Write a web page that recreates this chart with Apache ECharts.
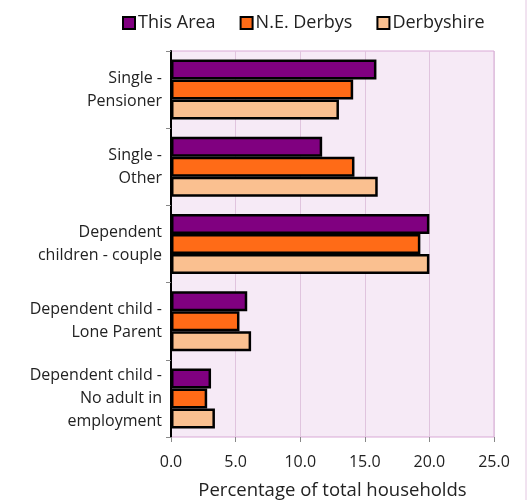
<!DOCTYPE html>
<html lang="en">
<head>
    <meta charset="UTF-8">
    <title>Household types</title>
    <script src="https://cdn.jsdelivr.net/npm/echarts@6/dist/echarts.min.js"></script>
</head>
<body style="margin:0">
<div id="main" style="width: 527px;height:500px;"></div>
<script>
    // categories, top to bottom
    var categories = ['Single -\nPensioner', 'Single -\nOther', 'Dependent\nchildren - couple',
        'Dependent child -\nLone Parent', 'Dependent child -\nNo adult in\nemployment'];
    var seriesNames = ['This Area', 'N.E. Derbys', 'Derbyshire'];
    var thisArea = [15.9, 11.7, 20.0, 5.9, 3.1];
    var neDerbys = [14.1, 14.2, 19.3, 5.3, 2.8];
    var derbyshire = [13.0, 16.0, 20.0, 6.2, 3.4];
    var xTicks = [0, 5, 10, 15, 20, 25];

    var colors = ['#800080', '#ff6b17', '#fac090'];
    var font = 'Open Sans';

    var myChart = echarts.init(document.getElementById('main'));

    function bar(name, data, color) {
        return {
            name: name,
            type: 'bar',
            data: data,
            barWidth: 20,
            barGap: '0%',
            itemStyle: {color: color, borderColor: '#000', borderWidth: 2.5}
        };
    }

    var option = {
        animation: false,
        textStyle: {fontFamily: font},
        legend: {
            top: 9,
            left: 117,
            icon: 'rect',
            itemWidth: 12,
            itemHeight: 12,
            itemGap: 24,
            textStyle: {fontSize: 18, color: '#222', padding: [0, 0, 0, -2]},
            data: seriesNames
        },
        grid: {
            left: 171, right: 33, top: 51, bottom: 63,
            outerBoundsMode: 'none',
            show: true,
            backgroundColor: '#f6eaf6',
            borderColor: '#d9a9d6',
            borderWidth: 1
        },
        xAxis: {
            type: 'value',
            min: xTicks[0],
            max: xTicks[xTicks.length - 1],
            interval: 5,
            name: 'Percentage of total households',
            nameLocation: 'middle',
            nameGap: 44,
            nameTextStyle: {fontSize: 18.5, color: '#222'},
            axisLine: {show: false},
            axisTick: {show: true, length: 5, lineStyle: {color: '#888'}},
            axisLabel: {fontSize: 16, color: '#222', margin: 17,
                formatter: function (v) { return v.toFixed(1); }},
            splitLine: {lineStyle: {color: '#e0c4de', width: 1}}
        },
        yAxis: {
            type: 'category',
            inverse: true,
            data: categories,
            axisLine: {show: true, lineStyle: {color: '#000', width: 2}},
            axisTick: {show: true, length: 5, lineStyle: {color: '#888'}},
            axisLabel: {fontSize: 16, color: '#222', lineHeight: 23, margin: 9, align: 'right'}
        },
        graphic: [{
            type: 'line',
            shape: {x1: 526, y1: 0, x2: 526, y2: 500},
            style: {stroke: '#e3c6e1', lineWidth: 1}
        }],
        series: [
            bar(seriesNames[0], thisArea, colors[0]),
            bar(seriesNames[1], neDerbys, colors[1]),
            bar(seriesNames[2], derbyshire, colors[2])
        ]
    };

    myChart.setOption(option);
</script>
</body>
</html>
